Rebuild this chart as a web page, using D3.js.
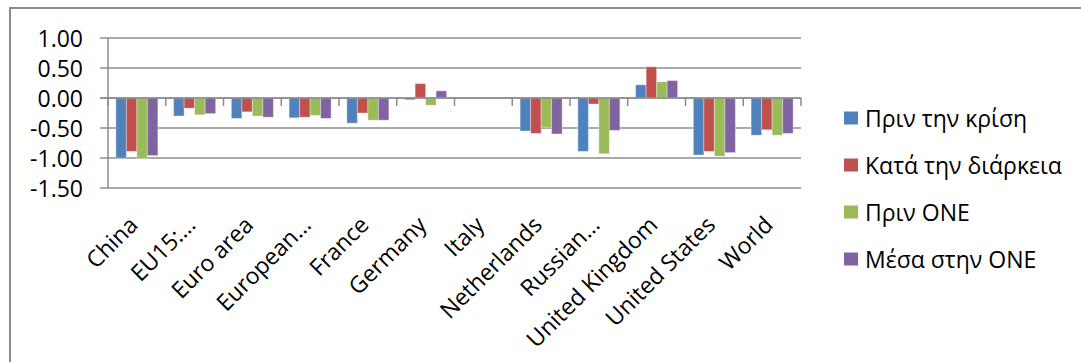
<!DOCTYPE html>
<html>
<head>
<meta charset="utf-8">
<script src="https://cdn.jsdelivr.net/npm/d3@7/dist/d3.min.js"></script>
<style>
  html, body { margin: 0; padding: 0; background: #fff; }
  svg { display: block; }
  text { font-family: "Open Sans", "Noto Sans", sans-serif; fill: #000; }
</style>
</head>
<body>
<svg id="chart" width="1081" height="362"></svg>
<script>
const categories = ["China", "EU15:…", "Euro area", "European…", "France", "Germany", "Italy",
  "Netherlands", "Russian…", "United Kingdom", "United States", "World"];
const seriesNames = ["Πριν την κρίση", "Κατά την διάρκεια", "Πριν ONE", "Μέσα στην ONE"];
const seriesColors = ["#4F81BD", "#C0504D", "#9BBB59", "#8064A2"];
const preCrisis   = [-1.00, -0.30, -0.34, -0.33, -0.42, -0.03, 0, -0.55, -0.89, 0.22, -0.95, -0.62];
const duringCrisis= [-0.89, -0.17, -0.23, -0.32, -0.25, 0.24, 0, -0.59, -0.10, 0.52, -0.89, -0.53];
const preEMU      = [-1.01, -0.28, -0.30, -0.29, -0.37, -0.12, 0, -0.49, -0.93, 0.27, -0.97, -0.62];
const inEMU       = [-0.96, -0.26, -0.32, -0.34, -0.37, 0.12, 0, -0.60, -0.54, 0.29, -0.91, -0.59];
const yTicks = [1.00, 0.50, 0.00, -0.50, -1.00, -1.50];

const seriesValues = [preCrisis, duringCrisis, preEMU, inEMU];

const svg = d3.select("#chart");
const FONT = 23;

// outer frame (extends beyond the window on right and bottom)
svg.append("rect")
  .attr("x", 10).attr("y", 8).attr("width", 1200).attr("height", 500)
  .attr("fill", "none").attr("stroke", "#8c8c8c").attr("stroke-width", 2);

const x0 = 108, x1 = 801;
const y = d3.scaleLinear().domain([-1.5, 1.0]).range([188, 38]);
const x = d3.scaleBand().domain(categories).range([x0, x1]).paddingInner(0).paddingOuter(0);
const bw = x.bandwidth();
const xs = d3.scaleBand().domain(d3.range(4)).range([bw * 1.5 / 11, bw - bw * 1.5 / 11]).padding(0);

// gridlines
svg.append("g").selectAll("line").data(yTicks).join("line")
  .attr("x1", x0 - 8).attr("x2", x1)
  .attr("y1", d => y(d)).attr("y2", d => y(d))
  .attr("stroke", "#8c8c8c").attr("stroke-width", 1.5);

// y axis line
svg.append("line").attr("x1", x0).attr("x2", x0).attr("y1", y(1)).attr("y2", y(-1.5))
  .attr("stroke", "#8c8c8c").attr("stroke-width", 1.5);

// y tick labels
svg.append("g").selectAll("text").data(yTicks).join("text")
  .attr("x", 83).attr("y", d => y(d))
  .attr("text-anchor", "end").attr("dominant-baseline", "central")
  .style("font-size", FONT + "px")
  .text(d => d3.format(".2f")(d).replace("−", "-"));

// bars
const barData = [];
categories.forEach((c, i) => {
  seriesValues.forEach((vals, s) => {
    barData.push({ c, s, v: vals[i] });
  });
});
svg.append("g").selectAll("rect").data(barData.filter(d => d.v !== 0)).join("rect")
  .attr("x", d => x(d.c) + xs(d.s))
  .attr("width", xs.bandwidth())
  .attr("y", d => Math.min(y(d.v), y(0)))
  .attr("height", d => Math.abs(y(d.v) - y(0)))
  .attr("fill", d => seriesColors[d.s])
  .attr("stroke", "rgba(255,255,255,0.35)").attr("stroke-width", 1);

// category axis (zero line drawn on top) and ticks
svg.append("line").attr("x1", x0 - 8).attr("x2", x1).attr("y1", y(0)).attr("y2", y(0))
  .attr("stroke", "#8c8c8c").attr("stroke-width", 1.5);
const boundaries = categories.map(c => x(c)).concat([x1]);
svg.append("g").selectAll("line").data(boundaries).join("line")
  .attr("x1", d => d).attr("x2", d => d)
  .attr("y1", y(0)).attr("y2", y(0) + 8)
  .attr("stroke", "#8c8c8c").attr("stroke-width", 1.5);

// x labels rotated
svg.append("g").selectAll("text").data(categories).join("text")
  .attr("transform", d => `translate(${x(d) + bw / 2 - 4},${220}) rotate(-45)`)
  .attr("text-anchor", "end")
  .attr("dominant-baseline", "central")
  .style("font-size", FONT + "px")
  .text(d => d);

// legend
const legendRows = [118, 165, 212, 259];
const lg = svg.append("g");
seriesNames.forEach((n, i) => {
  lg.append("rect").attr("x", 844).attr("y", legendRows[i] - 6.5)
    .attr("width", 14).attr("height", 13).attr("fill", seriesColors[i]);
  lg.append("text").attr("x", 865).attr("y", legendRows[i])
    .attr("dominant-baseline", "central")
    .style("font-size", FONT + "px")
    .text(n);
});
</script>
</body>
</html>
